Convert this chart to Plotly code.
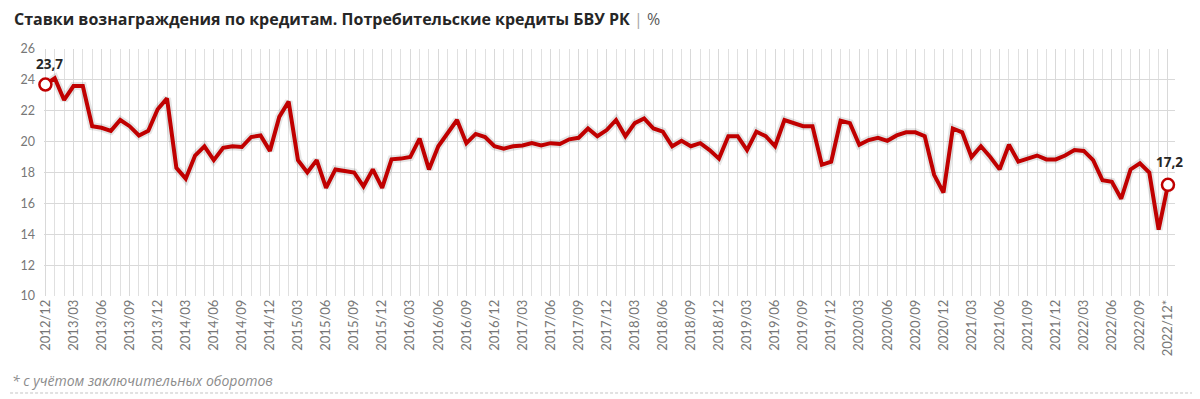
import plotly.graph_objects as go

months = []
for y in range(2012, 2023):
    for m in range(1, 13):
        if (y == 2012 and m < 12):
            continue
        months.append(f"{y}/{m:02d}")
months[-1] = "2022/12*"

rates = [
    23.7, 24.1, 22.7, 23.6, 23.6, 21.0, 20.9, 20.7, 21.4, 21.0,
    20.4, 20.7, 22.1, 22.8, 18.3, 17.6, 19.1, 19.7, 18.8, 19.6,
    19.7, 19.65, 20.3, 20.4, 19.4, 21.6, 22.6, 18.8, 18.0, 18.8,
    17.0, 18.2, 18.1, 18.0, 17.1, 18.2, 17.0, 18.85, 18.9, 19.0,
    20.2, 18.2, 19.7, 20.6, 21.4, 19.9, 20.5, 20.3, 19.7, 19.55,
    19.7, 19.75, 19.9, 19.75, 19.9, 19.85, 20.15, 20.25, 20.85, 20.35,
    20.75, 21.4, 20.35, 21.2, 21.5, 20.85, 20.65, 19.7, 20.05, 19.7,
    19.9, 19.45, 18.9, 20.35, 20.35, 19.45, 20.65, 20.35, 19.7, 21.4,
    21.2, 21.0, 21.0, 18.5, 18.7, 21.35, 21.2, 19.8, 20.1, 20.25,
    20.05, 20.4, 20.6, 20.6, 20.35, 17.85, 16.7, 20.85, 20.6, 19.0,
    19.7, 19.0, 18.2, 19.8, 18.7, 18.9, 19.1, 18.85, 18.85, 19.1,
    19.45, 19.4, 18.8, 17.5, 17.4, 16.3, 18.2, 18.6, 18.0, 14.3,
    17.2,
]

title_main = "Ставки вознаграждения по кредитам. Потребительские кредиты БВУ РК"
title_unit = "%"
footnote = "* с учётом заключительных оборотов"
y_ticks = [10, 12, 14, 16, 18, 20, 22, 24, 26]

idx = list(range(len(months)))
tick_idx = idx[::3]
tick_txt = [months[i] for i in tick_idx]

RED = "#c00000"
fig = go.Figure()

# soft shadow under the line
fig.add_trace(go.Scatter(
    x=idx, y=rates, mode="lines",
    line=dict(color="rgba(0,0,0,0.10)", width=8),
    hoverinfo="skip", showlegend=False,
))
fig.add_trace(go.Scatter(
    x=idx, y=rates, mode="lines",
    line=dict(color=RED, width=4),
    showlegend=False,
))
end_idx = [idx[0], idx[-1]]
fig.add_trace(go.Scatter(
    x=end_idx, y=[rates[i] for i in end_idx], mode="markers",
    marker=dict(size=12, color="white", line=dict(color=RED, width=2.5)),
    showlegend=False, cliponaxis=False,
))

for i, dx, dy in [(0, 4, 21), (len(rates) - 1, 2, 23)]:
    fig.add_annotation(
        x=i, y=rates[i], xref="x", yref="y",
        text=f"<b>{rates[i]:.1f}</b>".replace(".", ","),
        showarrow=False, yshift=dy, xshift=dx,
        font=dict(family="Open Sans", size=13.5, color="#262626"),
    )

fig.add_annotation(
    x=0, y=1, xref="paper", yref="paper", xanchor="left", yanchor="middle",
    xshift=-32, yshift=30.5,
    text=(f"<b>{title_main}</b> <span style='color:#a6a6a6'>|</span> "
          f"<span style='color:#595959'>{title_unit}</span>"),
    showarrow=False, align="left",
    font=dict(family="Open Sans", size=16, color="#262626"),
)
fig.add_annotation(
    x=0, y=0, xref="paper", yref="paper", xanchor="left", yanchor="middle",
    xshift=-34, yshift=-84,
    text=f"<i>{footnote}</i>", showarrow=False,
    font=dict(family="Open Sans", size=14, color="#8c8c8c"),
)
fig.add_shape(
    type="line", xref="paper", yref="paper",
    x0=-0.030, x1=1.022, y0=-0.3927, y1=-0.3927,
    line=dict(color="#c4c4c4", width=1, dash="3px,2px"),
)

fig.update_layout(
    width=1192, height=391,
    margin=dict(l=34, r=25, t=41, b=103),
    paper_bgcolor="white", plot_bgcolor="white",
    font=dict(family="Lato", color="#777777", size=12),
)

fig.update_xaxes(
    range=[-0.15, len(months) - 1 + 0.75],
    tickmode="array", tickvals=tick_idx, ticktext=tick_txt,
    tickangle=-90, showgrid=True, gridcolor="#d9d9d9", gridwidth=1,
    minor=dict(tickmode="linear", tick0=0, dtick=1, showgrid=True,
               gridcolor="#e0e0e0", gridwidth=1),
    showline=False, zeroline=False, ticks="",
    tickfont=dict(family="Lato", size=13, color="#777777"),
)
fig.update_yaxes(
    range=[10, 26], tickmode="array", tickvals=y_ticks,
    showgrid=True, gridcolor="#d9d9d9", gridwidth=1,
    zeroline=False, showline=False, ticks="", ticklabelstandoff=8,
    tickfont=dict(family="Lato", size=12.5, color="#777777"),
)

fig.write_html("out.html")
